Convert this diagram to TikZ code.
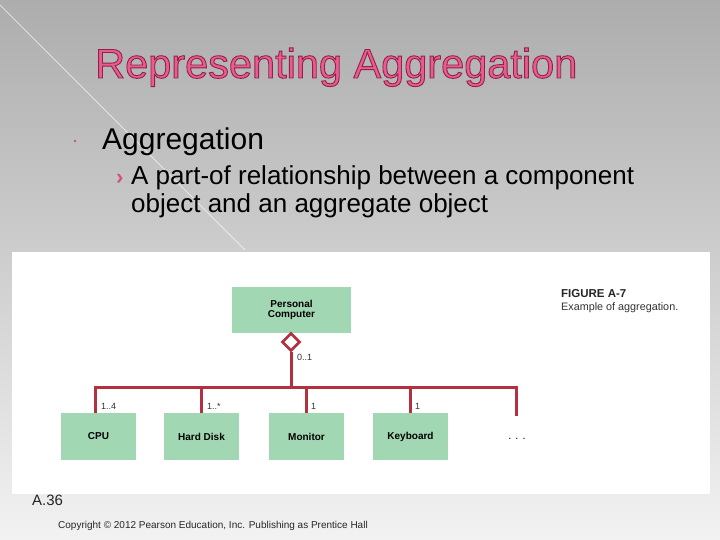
\documentclass[tikz,border=0pt]{standalone}
\usepackage{fontspec}
\setmainfont{Liberation Sans}
\usetikzlibrary{shapes.geometric}
\definecolor{bgtop}{HTML}{ADADAD}
\definecolor{bgbot}{HTML}{F2F2F2}
\definecolor{titlepink}{HTML}{EC5A92}
\definecolor{linered}{HTML}{B3303E}
\definecolor{boxgreen}{HTML}{A1D7B2}
\definecolor{bulletpink}{HTML}{D0507E}
\newcommand{\outlinetext}[1]{\special{pdf:literal direct 2 Tr 0.9 w 0.55 0.14 0.28 RG}#1\special{pdf:literal direct 0 Tr}}
\tikzset{
  cls/.style={fill=boxgreen, draw=none, minimum width=75pt, minimum height=47pt, inner sep=0pt,
    font=\fontsize{10}{11}\selectfont\bfseries, align=center},
  rel/.style={draw=linered, line width=3pt},
  mult/.style={font=\fontsize{9}{10}\selectfont, anchor=base west, inner sep=0pt, text=black!80},
  txt/.style={anchor=base west, inner sep=0pt}
}
\begin{document}
\begin{tikzpicture}[x=1pt,y=-1pt]
\useasboundingbox (0,0) rectangle (720,540);
% background
\shade[top color=bgtop, bottom color=bgbot] (0,0) rectangle (720,540);
\draw[white, opacity=0.6, line width=0.8pt] (0,5) -- (245,250);
% title
\node[txt, font=\fontsize{41.5}{44}\selectfont, text=titlepink] (title) at (95,78) {\outlinetext{Representing Aggregation}};
% bullets
\fill[bulletpink] (75,141) circle (1.3);
\node[txt, font=\fontsize{30}{32}\selectfont] (agg) at (102,150) {Aggregation};
\node[txt, font=\fontsize{22}{24}\selectfont\bfseries, text=bulletpink] (arr) at (116,185) {›};
\node[txt, font=\fontsize{26}{28}\selectfont] (l1) at (131,185) {A part-of relationship between a component};
\node[txt, font=\fontsize{26}{28}\selectfont] (l2) at (131,213) {object and an aggregate object};
% white panel
\fill[white] (12,252) rectangle (710,494);
% figure caption
\node[txt, font=\fontsize{11.5}{12}\selectfont\bfseries, text=black!85] (fig) at (561,297) {FIGURE A-7};
\node[txt, font=\fontsize{10.8}{12}\selectfont, text=black!80] (figc) at (561,310) {Example of aggregation.};
% classes
\node[cls, minimum width=119pt, minimum height=46pt] (pc) at (291.5,310) {Personal\\[-1pt]Computer};
\node[cls] (cpu) at (98.5,436.5) {CPU};
\node[cls] (hd) at (201.5,436.5) {Hard Disk};
\node[cls] (mon) at (306.5,436.5) {Monitor};
\node[cls] (kb) at (410.5,436.5) {Keyboard};
\node[font=\fontsize{11}{12}\selectfont, inner sep=0pt] (dots) at (517,439) {. . .};
% connectors
\node[diamond, draw=linered, line width=2.6pt, fill=white, minimum width=18pt, minimum height=18pt, inner sep=0pt] (dia) at (291,342) {};
\coordinate (bus) at (291,387);
\coordinate (busL) at (95,387);
\coordinate (busR) at (516,387);
\coordinate (dotsEnd) at (516,416);
\draw[rel] (dia.south) -- (bus);
\draw[rel, line cap=rect] (busL) -- (busR);
\draw[rel] (busL) -- (busL |- cpu.north);
\draw[rel] (201,387) -- (201,413);
\draw[rel] (306,387) -- (306,413);
\draw[rel] (410,387) -- (410,413);
\draw[rel] (busR) -- (dotsEnd);
% multiplicities
\node[mult] (m0) at (297,360) {0..1};
\node[mult] (m1) at (101,409) {1..4};
\node[mult] (m2) at (207,409) {1..*};
\node[mult] (m3) at (311,409) {1};
\node[mult] (m4) at (415,409) {1};
% footer
\node[txt, font=\fontsize{15}{16}\selectfont, text=black!85] (pg) at (32,505) {A.36};
\node[txt, font=\fontsize{10}{11}\selectfont, text=black!85] (copy) at (58,528) {Copyright © 2012 Pearson Education, Inc. Publishing as Prentice Hall};
\end{tikzpicture}
\end{document}
